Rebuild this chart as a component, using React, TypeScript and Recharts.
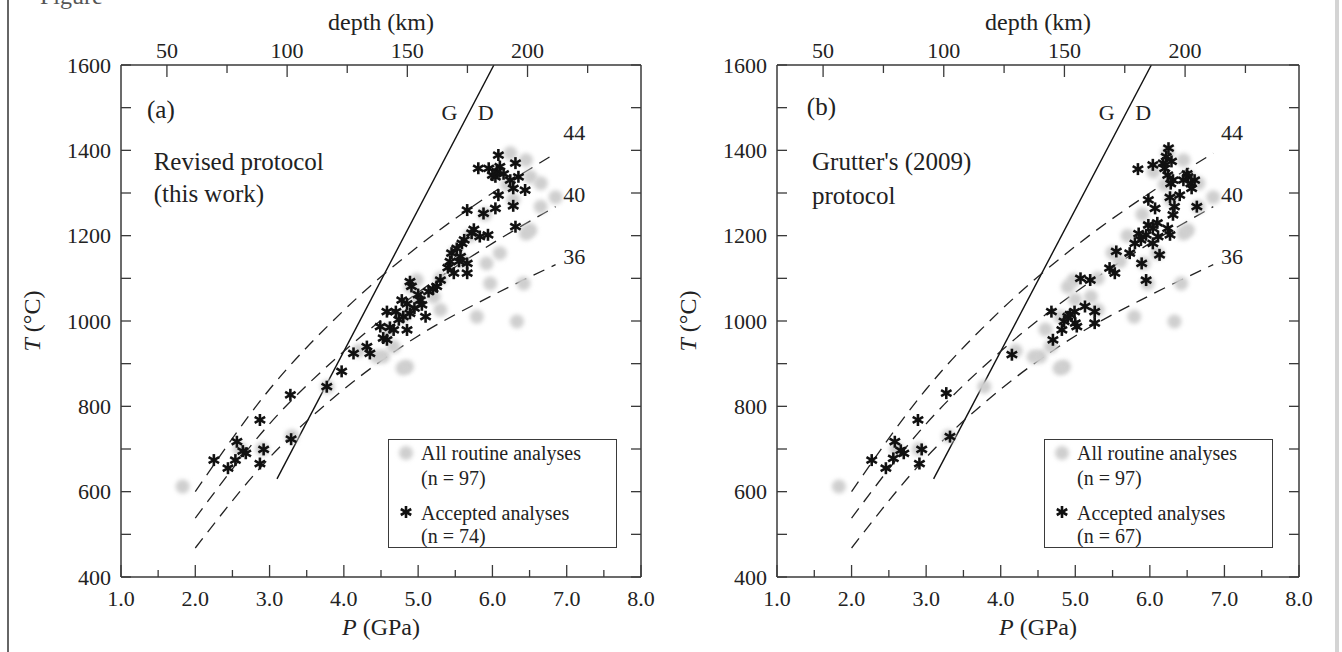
import React from "react";
import { ComposedChart, Scatter, Line, XAxis, YAxis } from "recharts";

// axes
const pressureTicks = [1, 1.5, 2, 2.5, 3, 3.5, 4, 4.5, 5, 5.5, 6, 6.5, 7, 7.5, 8];
const tempTicks = [400, 500, 600, 700, 800, 900, 1000, 1100, 1200, 1300, 1400, 1500, 1600];
const depthTicks = [50, 75, 100, 125, 150, 175, 200, 225];
const KM_PER_GPA = 30.9;

// [P (GPa), T (°C)]
const routineAll: [number, number][] = [
  [6.24, 1393], [6.45, 1377], [6.51, 1338], [6.65, 1323], [6.28, 1284], [6.65, 1268],
  [6.51, 1213], [6.45, 1205], [6.1, 1159], [5.92, 1135], [5.97, 1088], [6.42, 1088],
  [6.33, 999], [5.79, 1010], [5.3, 1026], [5.21, 1057], [4.98, 1096], [4.67, 940],
  [4.85, 893], [4.53, 917], [4.44, 916], [4.79, 889], [3.78, 846], [1.83, 612], [6.85, 1290],
  [6.05, 1350], [5.9, 1250], [5.7, 1200], [5.5, 1160], [5.3, 1100], [5.0, 1050],
  [4.8, 1010], [4.6, 980], [4.2, 930], [2.6, 700], [2.9, 700], [3.3, 730], [6.2, 1320],
  [5.6, 1140], [4.9, 1080],
];

const acceptedRevised: [number, number][] = [
  [6.08, 1389], [5.81, 1358], [5.95, 1358], [6.06, 1350], [6.04, 1338], [6.1, 1362],
  [6.31, 1370], [6.24, 1330], [6.28, 1311], [6.44, 1307], [6.08, 1295], [6.28, 1270],
  [6.04, 1264], [5.88, 1252], [5.66, 1260], [6.31, 1221], [5.72, 1206], [5.83, 1198],
  [5.94, 1202], [5.59, 1182], [5.52, 1170], [5.45, 1159], [5.57, 1151], [5.66, 1135],
  [5.43, 1139], [5.66, 1112], [5.48, 1112], [5.3, 1096], [5.25, 1081], [5.14, 1069],
  [5.03, 1049], [4.89, 1092], [4.91, 1081], [4.78, 1049], [5.05, 1038], [5.1, 1010],
  [4.89, 1018], [4.8, 1010], [4.58, 1022], [4.74, 1003], [4.67, 979], [4.49, 987],
  [4.85, 979], [4.58, 956], [4.53, 960], [4.31, 940], [4.13, 924], [4.35, 924],
  [3.97, 882], [3.77, 846], [3.28, 827], [2.87, 768], [3.29, 723], [2.56, 717],
  [2.68, 690], [2.64, 695], [2.54, 674], [2.44, 655], [2.25, 674], [2.92, 699],
  [2.87, 666], [5.62, 1190], [5.75, 1215], [5.0, 1062], [4.95, 1030], [4.7, 1022],
  [5.4, 1125], [6.15, 1345], [6.0, 1342], [5.55, 1140], [4.62, 985], [6.35, 1338],
  [5.2, 1075], [4.85, 1040],
];

const acceptedGrutter: [number, number][] = [
  [6.25, 1405], [6.22, 1385], [6.29, 1374], [6.04, 1366], [5.84, 1356], [6.2, 1358],
  [6.24, 1342], [6.31, 1330], [6.51, 1338], [6.6, 1330], [6.56, 1311], [6.4, 1295],
  [6.63, 1268], [5.98, 1284], [6.07, 1264], [6.33, 1268], [6.31, 1249], [5.98, 1225],
  [6.04, 1217], [5.95, 1202], [6.24, 1217], [6.27, 1202], [6.11, 1198], [6.04, 1182],
  [5.8, 1182], [5.73, 1159], [5.89, 1135], [6.13, 1155], [5.95, 1096], [5.55, 1163],
  [5.46, 1124], [5.53, 1112], [5.07, 1100], [5.2, 1096], [4.68, 1022], [4.9, 1010],
  [4.99, 1022], [4.85, 999], [5.0, 995], [5.13, 1034], [5.02, 987], [4.82, 979],
  [5.26, 1022], [5.26, 995], [4.7, 956], [4.15, 921], [3.27, 831], [2.89, 768],
  [3.32, 729], [2.58, 717], [2.7, 690], [2.66, 697], [2.56, 678], [2.46, 655],
  [2.27, 674], [2.94, 699], [2.91, 666], [6.55, 1322], [6.27, 1290], [6.1, 1230],
  [6.5, 1345], [5.88, 1190], [4.93, 1015], [6.18, 1370], [6.45, 1330], [5.85, 1205],
  [6.28, 1322],
];

const graphiteDiamond: [number, number][] = [[3.1, 630], [6.02, 1600]];
const geotherm44: [number, number][] = [[2, 600], [3, 840], [4, 1025], [5, 1175], [6, 1300], [6.85, 1393]];
const geotherm40: [number, number][] = [[2, 538], [3, 759], [4, 929], [5, 1067], [6, 1182], [6.85, 1268]];
const geotherm36: [number, number][] = [[2, 468], [3, 680], [4, 840], [5, 965], [6, 1060], [6.85, 1132]];

const geothermNames = [
  { P: 7.1, T: 1424, text: "44" },
  { P: 7.1, T: 1279, text: "40" },
  { P: 7.1, T: 1133, text: "36" },
];
const gdLetters = [
  { P: 5.42, T: 1471, text: "G" },
  { P: 5.91, T: 1471, text: "D" },
];
const notesA = [
  { P: 1.35, T: 1476, text: "(a)" },
  { P: 1.44, T: 1354, text: "Revised protocol" },
  { P: 1.44, T: 1279, text: "(this work)" },
];
const notesB = [
  { P: 1.4, T: 1483, text: "(b)" },
  { P: 1.47, T: 1354, text: "Grutter's (2009)" },
  { P: 1.47, T: 1274, text: "protocol" },
];

const FONT = "'Liberation Serif', 'Times New Roman', serif";
const INK = "#222";
const FRAME = "#3a3a3a";

const toPts = (arr: [number, number][]) => arr.map(([P, T]) => ({ P, T }));

const BottomTick = ({ x, y, payload }: any) => {
  const v = payload.value;
  const major = Math.abs(v - Math.round(v)) < 1e-6;
  return (
    <g>
      <line x1={x} y1={y} x2={x} y2={y - (major ? 12 : 7)} stroke={FRAME} strokeWidth={1.3} />
      {major && (
        <text x={x} y={y + 29} textAnchor="middle" fontSize={22} fontFamily={FONT} fill={INK}>
          {v.toFixed(1)}
        </text>
      )}
    </g>
  );
};

const TopTick = ({ x, y, payload }: any) => {
  const depth = Math.round(payload.value * KM_PER_GPA);
  const major = depth % 50 === 0;
  return (
    <g>
      <line x1={x} y1={y} x2={x} y2={y + (major ? 12 : 8)} stroke={FRAME} strokeWidth={1.3} />
      {major && (
        <text x={x} y={y - 7} textAnchor="middle" fontSize={22} fontFamily={FONT} fill={INK}>
          {depth}
        </text>
      )}
    </g>
  );
};

const LeftTick = ({ x, y, payload }: any) => {
  const v = payload.value;
  return (
    <g>
      <line x1={x} y1={y} x2={x + 10} y2={y} stroke={FRAME} strokeWidth={1.3} />
      {v % 200 === 0 && (
        <text x={x - 10} y={y + 7.5} textAnchor="end" fontSize={22} fontFamily={FONT} fill={INK}>
          {v}
        </text>
      )}
    </g>
  );
};

const RightTick = ({ x, y }: any) => (
  <line x1={x} y1={y} x2={x - 10} y2={y} stroke={FRAME} strokeWidth={1.3} />
);

const TitleY = ({ viewBox }: any) => {
  const cx = viewBox.x + 40;
  const cy = viewBox.y + viewBox.height / 2;
  return (
    <text x={cx} y={cy} transform={`rotate(-90 ${cx} ${cy})`} textAnchor="middle" fontSize={24} fontFamily={FONT} fill={INK}>
      <tspan fontStyle="italic">T</tspan> (°C)
    </text>
  );
};

const TitleP = ({ viewBox }: any) => (
  <text x={viewBox.x + viewBox.width / 2} y={viewBox.y + 58} textAnchor="middle" fontSize={24} fontFamily={FONT} fill={INK}>
    <tspan fontStyle="italic">P</tspan> (GPa)
  </text>
);

const TitleDepth = ({ viewBox }: any) => (
  <text x={viewBox.x + viewBox.width / 2} y={viewBox.y + 30} textAnchor="middle" fontSize={24} fontFamily={FONT} fill={INK}>
    depth (km)
  </text>
);

// heavy asterisk used for accepted analyses
const Star = ({ cx, cy }: any) => {
  const r = 6;
  return (
    <g stroke="#111" strokeWidth={2.6}>
      <line x1={cx} y1={cy - r} x2={cx} y2={cy + r} />
      <line x1={cx - r * 0.87} y1={cy - r * 0.5} x2={cx + r * 0.87} y2={cy + r * 0.5} />
      <line x1={cx - r * 0.87} y1={cy + r * 0.5} x2={cx + r * 0.87} y2={cy - r * 0.5} />
    </g>
  );
};

const GreyDot = ({ cx, cy }: any) => (
  <circle cx={cx} cy={cy} r={7} fill="#cfcfcf" style={{ filter: "blur(2px)" }} />
);

const NoteText = ({ cx, cy, payload }: any) => (
  <text x={cx} y={cy} fontSize={25} fontFamily={FONT} fill={INK}>{payload.text}</text>
);
const CenterText = ({ cx, cy, payload }: any) => (
  <text x={cx} y={cy} textAnchor="middle" fontSize={22} fontFamily={FONT} fill={INK}>{payload.text}</text>
);

const LegendBox = ({ left, n }: { left: number; n: number }) => (
  <div
    style={{
      position: "absolute", left, top: 439, width: 229, height: 109, boxSizing: "border-box",
      border: `1.5px solid ${FRAME}`, fontFamily: FONT, fontSize: 20, color: INK,
    }}
  >
    <svg width={229} height={109} style={{ position: "absolute", left: 0, top: 0 }}>
      <GreyDot cx={17} cy={13} />
      <Star cx={17} cy={72} />
    </svg>
    <div style={{ position: "absolute", left: 32, top: 1, lineHeight: "24px", whiteSpace: "nowrap" }}>All routine analyses</div>
    <div style={{ position: "absolute", left: 32, top: 26, lineHeight: "24px" }}>(n = 97)</div>
    <div style={{ position: "absolute", left: 32, top: 61, lineHeight: "24px", whiteSpace: "nowrap" }}>Accepted analyses</div>
    <div style={{ position: "absolute", left: 32, top: 84, lineHeight: "24px" }}>(n = {n})</div>
  </div>
);

const Panel = ({ left, width, accepted, notes, n }: any) => (
  <div style={{ position: "absolute", left, top: 0, width, height: 652 }}>
    <ComposedChart width={width} height={652} margin={{ top: 0, right: 0, bottom: 0, left: 0 }}>
      <XAxis
        xAxisId="p" dataKey="P" type="number" domain={[1, 8]} ticks={pressureTicks} interval={0}
        allowDataOverflow orientation="bottom" height={75} tickSize={0} tickMargin={0}
        tick={<BottomTick />} axisLine={{ stroke: FRAME, strokeWidth: 1.5 }} label={<TitleP />}
      />
      <XAxis
        xAxisId="depth" dataKey="P" type="number" domain={[1, 8]} ticks={depthTicks.map((d) => d / KM_PER_GPA)}
        interval={0} allowDataOverflow orientation="top" height={65} tickSize={0} tickMargin={0}
        tick={<TopTick />} axisLine={{ stroke: FRAME, strokeWidth: 1.5 }} label={<TitleDepth />}
      />
      <YAxis
        yAxisId="t" dataKey="T" type="number" domain={[400, 1600]} ticks={tempTicks} interval={0}
        allowDataOverflow width={121} tickSize={0} tickMargin={0} tick={<LeftTick />}
        axisLine={{ stroke: FRAME, strokeWidth: 1.5 }} label={<TitleY />}
      />
      <YAxis
        yAxisId="r" dataKey="T" type="number" domain={[400, 1600]} ticks={tempTicks} interval={0}
        allowDataOverflow orientation="right" width={19} tickSize={0} tickMargin={0} tick={<RightTick />}
        axisLine={{ stroke: FRAME, strokeWidth: 1.5 }}
      />
      <Scatter xAxisId="p" yAxisId="t" data={toPts(routineAll)} shape={<GreyDot />} isAnimationActive={false} />
      <Line xAxisId="depth" yAxisId="r" data={toPts(graphiteDiamond)} dataKey="T" type="linear" stroke="#111" strokeWidth={1.4} dot={false} isAnimationActive={false} />
      {[geotherm44, geotherm40, geotherm36].map((g, i) => (
        <Line key={i} xAxisId="depth" yAxisId="r" data={toPts(g)} dataKey="T" type="monotone" stroke="#222" strokeWidth={1.3} strokeDasharray="12 8" dot={false} isAnimationActive={false} />
      ))}
      <Scatter xAxisId="p" yAxisId="t" data={toPts(accepted)} shape={<Star />} isAnimationActive={false} />
      <Scatter xAxisId="p" yAxisId="t" data={notes} shape={<NoteText />} isAnimationActive={false} />
      <Scatter xAxisId="p" yAxisId="t" data={gdLetters} shape={<CenterText />} isAnimationActive={false} />
      <Scatter xAxisId="p" yAxisId="t" data={geothermNames} shape={<CenterText />} isAnimationActive={false} />
    </ComposedChart>
    <LegendBox left={388} n={n} />
  </div>
);

export default function App() {
  return (
    <div style={{ position: "absolute", left: 0, top: 0, width: 1342, height: 652, background: "#fff", overflow: "hidden" }}>
      <div style={{ position: "absolute", left: 40, top: -17, fontFamily: FONT, fontSize: 24, color: "#555" }}>Figure</div>
      <div style={{ position: "absolute", left: 7, top: 0, width: 2, height: 652, background: "#666" }} />
      <div style={{ position: "absolute", left: 1335, top: 0, width: 4, height: 652, background: "#d4d4d4" }} />
      <Panel left={0} width={660} accepted={acceptedRevised} notes={notesA} n={74} />
      <Panel left={656} width={662} accepted={acceptedGrutter} notes={notesB} n={67} />
    </div>
  );
}
